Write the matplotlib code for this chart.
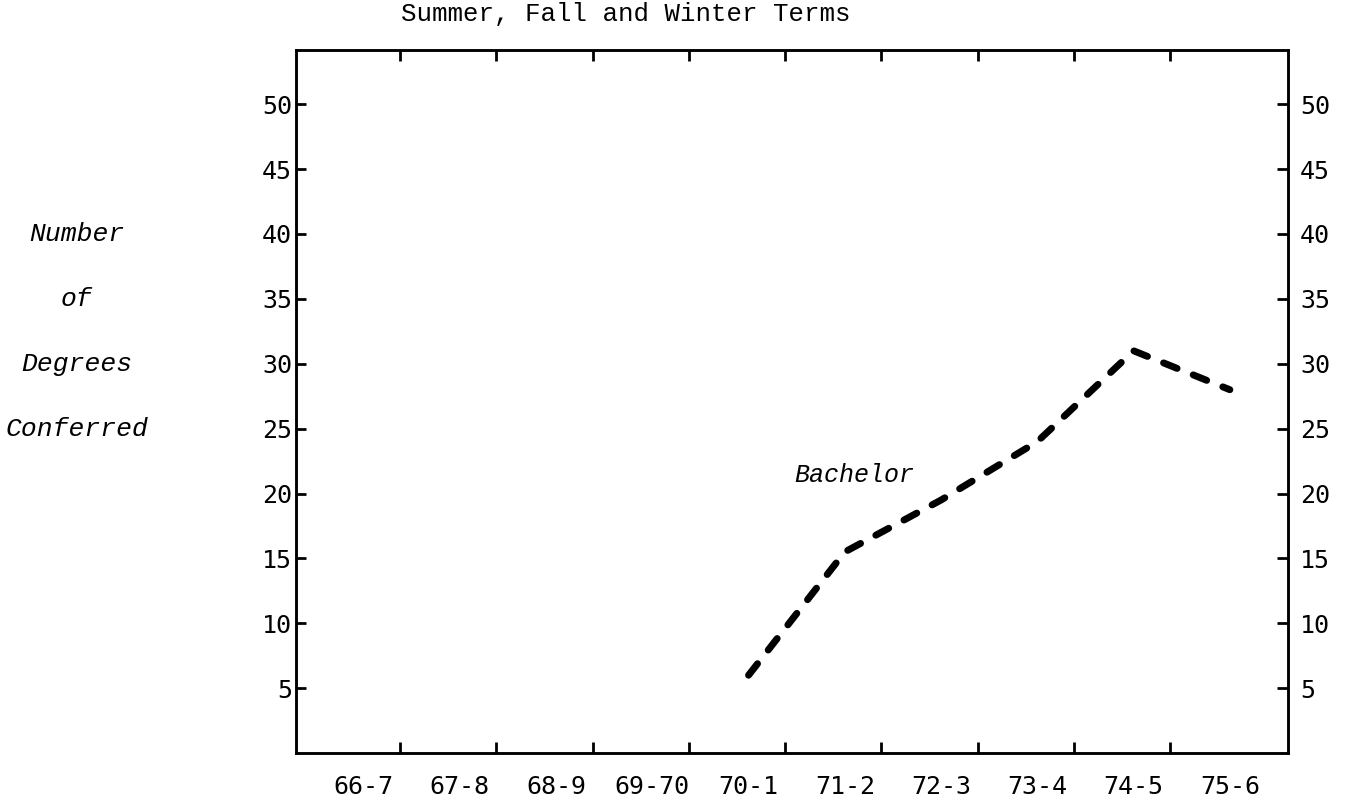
#!/usr/bin/env python3
"""Bachelor degrees conferred, summer/fall/winter terms, 66-7 to 75-6."""

import matplotlib
matplotlib.use("Agg")
import matplotlib.pyplot as plt
import numpy as np


# ---------------------------------------------------------------------------
# Data
# ---------------------------------------------------------------------------

YEARS = ["66-7", "67-8", "68-9", "69-70", "70-1",
         "71-2", "72-3", "73-4", "74-5", "75-6"]

BACHELOR_YEARS  = ["70-1", "71-2", "72-3", "73-4", "74-5", "75-6"]
BACHELOR_VALUES = [6, 15.5, 19.5, 24, 31, 28]

Y_TICKS = [5, 10, 15, 20, 25, 30, 35, 40, 45, 50]

TICK_FONT  = "DejaVu Sans Mono"
TYPE_FONT  = "Liberation Mono"


# ---------------------------------------------------------------------------
# Plot
# ---------------------------------------------------------------------------

fig = plt.figure(figsize=(13.49, 8.02), dpi=100)
fig.patch.set_facecolor("white")
ax = fig.add_axes([0.2195, 0.061, 0.735, 0.877])

x_all = np.arange(len(YEARS))
x_bach = [YEARS.index(y) for y in BACHELOR_YEARS]

ax.plot(x_bach, BACHELOR_VALUES, color="black", linewidth=5,
        dashes=(2.1, 2.5), dash_capstyle="round", solid_capstyle="round")

ax.text(5.1, 21.4, "Bachelor", family=TYPE_FONT, style="italic",
        fontsize=18, ha="center", va="center")

ax.set_xlim(-0.7, 9.6)
ax.set_ylim(0, 54.2)

# x: labels at categories, small ticks between them (top and bottom)
ax.set_xticks(x_all)
ax.set_xticklabels(YEARS, fontsize=18, family=TICK_FONT)
ax.set_xticks(x_all[:-1] + 0.38, minor=True)
ax.tick_params(axis="x", which="major", length=0, pad=16)
ax.tick_params(axis="x", which="minor", direction="in", length=8, width=2,
               top=True, bottom=True)

# y: left labels close to the spine, right labels via twin axis
ax.set_yticks(Y_TICKS)
ax.set_yticklabels([str(v) for v in Y_TICKS], fontsize=18, family=TICK_FONT)
ax.tick_params(axis="y", direction="in", length=7, width=2, pad=3)

ax2 = ax.twinx()
ax2.set_ylim(ax.get_ylim())
ax2.set_yticks(Y_TICKS)
ax2.set_yticklabels([str(v) for v in Y_TICKS], fontsize=18, family=TICK_FONT)
ax2.tick_params(axis="y", direction="in", length=8, width=2, pad=9)

for a in (ax, ax2):
    for spine in a.spines.values():
        spine.set_linewidth(1.8)
        spine.set_color("black")

# title and stacked y label
fig.text(0.464, 0.982, "Summer, Fall and Winter Terms", family=TYPE_FONT,
         fontsize=18.5, ha="center", va="center")

for word, yval in zip(["Number", "of", "Degrees", "Conferred"], [40, 35, 30, 25]):
    ax.text(-0.7 - 2.28, yval, word, family=TYPE_FONT, style="italic",
            fontsize=19, ha="center", va="center", clip_on=False)

fig.savefig("out.png", dpi=100, facecolor="white")
plt.close(fig)
